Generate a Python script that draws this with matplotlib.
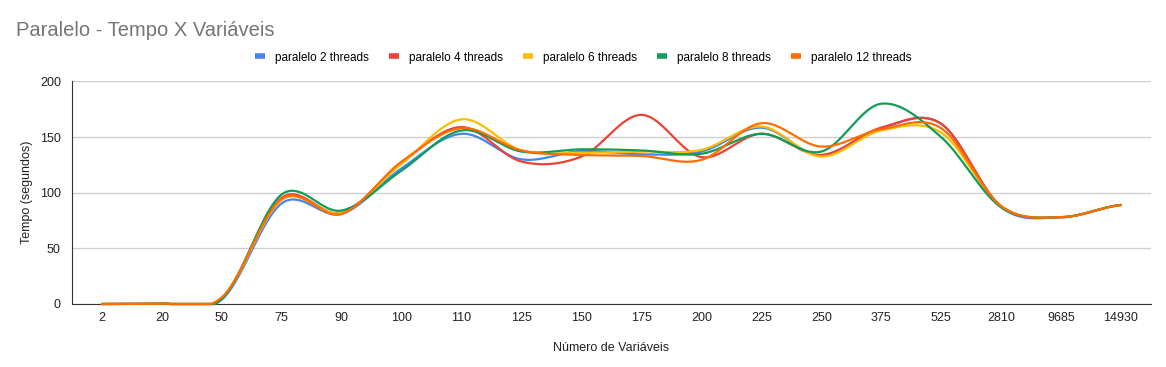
import numpy as np
import matplotlib.pyplot as plt

plt.rcParams['font.family'] = ['Liberation Sans', 'DejaVu Sans']

categories = ['2', '20', '50', '75', '90', '100', '110', '125', '150', '175',
              '200', '225', '250', '375', '525', '2810', '9685', '14930']

t2 = [0, 0.3, 4, 90.5, 81, 122, 153, 130, 137.5, 134.5, 137, 158.5, 133, 158, 162, 87, 78, 89]
t4 = [0, 0.3, 5, 95.5, 82, 127, 159, 128, 132.5, 170, 132, 153, 134, 158.5, 162, 88, 78, 89]
t6 = [0, 0.3, 5, 93.5, 82, 126, 166, 138, 136, 137, 138.5, 159.5, 132.5, 156, 154, 88, 78, 89]
t8 = [0, 0.3, 4.5, 98.5, 84, 120, 156, 137, 139, 138, 135, 153, 137, 180, 150, 87, 78, 89]
t12 = [0, 0.3, 6, 94.5, 81, 128, 158, 138, 134, 133, 129.5, 162.5, 141.5, 157, 158, 88, 78, 89]

series = [
    ('paralelo 2 threads', t2, '#4285F4'),
    ('paralelo 4 threads', t4, '#EA4335'),
    ('paralelo 6 threads', t6, '#FBBC04'),
    ('paralelo 8 threads', t8, '#0F9D58'),
    ('paralelo 12 threads', t12, '#FF6D01'),
]


def smooth(y, n=40):
    # curva suave tipo Catmull-Rom passando pelos pontos
    y = np.asarray(y, dtype=float)
    m = np.zeros_like(y)
    m[1:-1] = (y[2:] - y[:-2]) / 2
    m[0] = (y[1] - y[0]) / 2
    m[-1] = (y[-1] - y[-2]) / 2
    xs, ys = [], []
    t = np.linspace(0, 1, n, endpoint=False)
    for i in range(len(y) - 1):
        h00 = 2*t**3 - 3*t**2 + 1
        h10 = t**3 - 2*t**2 + t
        h01 = -2*t**3 + 3*t**2
        h11 = t**3 - t**2
        xs.append(i + t)
        ys.append(h00*y[i] + h10*m[i] + h01*y[i+1] + h11*m[i+1])
    xs.append([len(y) - 1])
    ys.append([y[-1]])
    return np.concatenate(xs), np.maximum(np.concatenate(ys), 0)


fig = plt.figure(figsize=(11.66, 3.67), dpi=100)
ax = fig.add_axes([0.0617, 0.1717, 0.9254, 0.6063])

for label, vals, color in series:
    xs, ys = smooth(vals)
    ax.plot(xs, ys, color=color, lw=1.6, label=label, clip_on=False, zorder=3,
            solid_capstyle='round')

ax.set_xlim(-0.5, len(categories) - 0.5)
ax.set_ylim(0, 200)
ax.set_yticks([0, 50, 100, 150, 200])
ax.set_xticks(range(len(categories)))
ax.set_xticklabels(categories)
ax.tick_params(axis='both', length=0, labelsize=9, colors='#222222', pad=6)
ax.tick_params(axis='y', pad=8)
ax.grid(axis='y', color='#cccccc', lw=0.9)
ax.set_axisbelow(True)
for s in ['top', 'right']:
    ax.spines[s].set_visible(False)
ax.spines['bottom'].set_color('#333333')
ax.spines['left'].set_color('#333333')
ax.spines['bottom'].set_zorder(2)

ax.set_xlabel('Número de Variáveis', fontsize=9, color='#222222', labelpad=13)
ax.set_ylabel('Tempo (segundos)', fontsize=9, color='#222222', labelpad=5)

fig.text(0.0137, 0.917, 'Paralelo - Tempo X Variáveis', fontsize=14.5, color='#757575',
         va='center', ha='left')

leg = fig.legend(loc='center', bbox_to_anchor=(0.5, 0.843), ncol=5, frameon=False,
                 fontsize=8.5, handlelength=0.9, handletextpad=0.8, columnspacing=1.7)
for h in leg.legend_handles:
    h.set_linewidth(4)
    h.set_solid_capstyle('butt')

fig.savefig('out.png', dpi=100)
